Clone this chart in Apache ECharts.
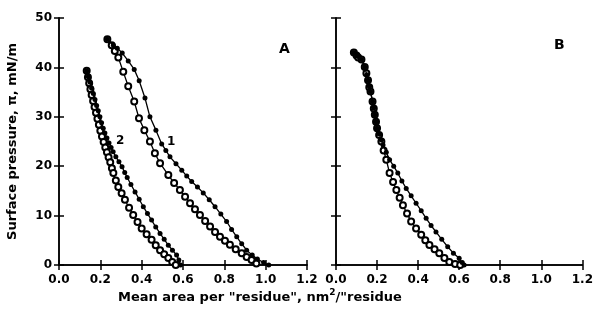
<!DOCTYPE html>
<html>
<head>
<meta charset="utf-8">
<script src="https://cdn.jsdelivr.net/npm/echarts@6/dist/echarts.min.js"></script>
<style>
  html, body { margin: 0; padding: 0; background: #fff; }
  #chart { width: 596px; height: 309px; }
</style>
</head>
<body>
<div id="chart"></div>
<script>
// panel A, curve 1 (filled = compression, open = expansion)
var a1Filled = [
  [0.234, 45.7], [0.263, 44.5], [0.282, 43.9], [0.306, 42.9], [0.335, 41.3], [0.364, 39.6],
  [0.388, 37.3], [0.416, 33.8], [0.440, 30.0], [0.469, 27.3], [0.497, 24.5], [0.517, 23.2],
  [0.537, 21.9], [0.566, 20.5], [0.594, 19.2], [0.618, 18.0], [0.642, 16.9], [0.670, 15.8],
  [0.698, 14.6], [0.727, 13.2], [0.755, 11.8], [0.783, 10.3], [0.811, 8.8], [0.835, 7.2],
  [0.860, 5.7], [0.884, 4.3], [0.908, 3.0], [0.935, 2.0], [0.960, 1.2], [0.990, 0.5], [1.015, 0]
];
var a1Open = [
  [0.234, 45.7], [0.255, 44.5], [0.270, 43.3], [0.287, 42.0], [0.311, 39.1], [0.335, 36.2],
  [0.364, 33.1], [0.387, 29.7], [0.413, 27.3], [0.440, 25.0], [0.464, 22.6], [0.489, 20.6],
  [0.529, 18.2], [0.557, 16.6], [0.585, 15.2], [0.610, 13.8], [0.634, 12.5], [0.658, 11.3],
  [0.682, 10.1], [0.707, 8.9], [0.731, 7.8], [0.755, 6.7], [0.779, 5.7], [0.803, 4.9],
  [0.827, 4.1], [0.855, 3.2], [0.884, 2.4], [0.908, 1.6], [0.932, 1.0], [0.955, 0.3]
];
// panel A, curve 2
var a2Filled = [
  [0.134, 39.3], [0.142, 38.1], [0.150, 37.0], [0.158, 35.8], [0.166, 34.7], [0.174, 33.5],
  [0.182, 32.3], [0.190, 31.2], [0.198, 30.0], [0.206, 28.8], [0.214, 27.7], [0.222, 26.7],
  [0.232, 25.7], [0.242, 24.7], [0.252, 23.8], [0.262, 22.9], [0.275, 21.9], [0.290, 20.9],
  [0.305, 19.9], [0.318, 18.7], [0.330, 17.7], [0.348, 16.3], [0.368, 14.8], [0.388, 13.3],
  [0.408, 11.8], [0.428, 10.4], [0.448, 9.1], [0.468, 7.7], [0.489, 6.4], [0.509, 5.2],
  [0.529, 4.0], [0.549, 3.0], [0.569, 2.0], [0.580, 1.0], [0.588, 0]
];
var a2Open = [
  [0.134, 39.3], [0.140, 38.0], [0.146, 36.8], [0.152, 35.6], [0.158, 34.4], [0.165, 33.2],
  [0.172, 32.0], [0.179, 30.8], [0.186, 29.6], [0.193, 28.4], [0.200, 27.2], [0.208, 26.0],
  [0.216, 24.9], [0.224, 23.8], [0.232, 22.8], [0.240, 21.8], [0.248, 20.8], [0.256, 19.6],
  [0.263, 18.6], [0.275, 17.1], [0.287, 15.8], [0.303, 14.5], [0.319, 13.2], [0.339, 11.6],
  [0.359, 10.1], [0.380, 8.7], [0.400, 7.4], [0.424, 6.2], [0.448, 5.1], [0.468, 4.0],
  [0.489, 3.0], [0.509, 2.2], [0.529, 1.4], [0.548, 0.6], [0.565, 0]
];
// panel B
var bFilled = [
  [0.087, 43.0], [0.100, 42.5], [0.108, 42.2], [0.124, 41.6], [0.140, 40.1], [0.150, 38.5],
  [0.156, 37.4], [0.162, 36.2], [0.168, 35.1], [0.178, 33.1], [0.184, 31.8], [0.189, 30.4],
  [0.195, 29.0], [0.200, 27.7], [0.210, 26.5], [0.221, 25.3], [0.229, 24.3], [0.245, 22.8],
  [0.261, 21.3], [0.281, 20.0], [0.301, 18.6], [0.321, 17.0], [0.342, 15.5], [0.366, 14.0],
  [0.390, 12.5], [0.415, 11.0], [0.439, 9.45], [0.463, 8.0], [0.487, 6.7], [0.515, 5.2],
  [0.544, 3.7], [0.572, 2.4], [0.600, 1.35], [0.615, 0.5], [0.624, 0]
];
var bOpen = [
  [0.087, 43.0], [0.100, 42.4], [0.108, 42.0], [0.124, 41.6], [0.140, 40.1], [0.148, 38.8],
  [0.156, 37.4], [0.162, 36.0], [0.168, 35.1], [0.178, 33.1], [0.184, 31.7], [0.189, 30.4],
  [0.195, 29.0], [0.200, 27.7], [0.210, 26.3], [0.221, 25.0], [0.232, 23.2], [0.245, 21.3],
  [0.261, 18.6], [0.278, 16.8], [0.294, 15.2], [0.310, 13.6], [0.326, 12.1], [0.346, 10.4],
  [0.366, 8.8], [0.390, 7.4], [0.415, 6.1], [0.435, 5.0], [0.455, 4.05], [0.480, 3.2],
  [0.503, 2.4], [0.528, 1.4], [0.552, 0.6], [0.580, 0.2], [0.605, 0]
];

var font = 'DejaVu Sans';
var axisLine = { show: true, lineStyle: { color: '#000', width: 1.5 } };
var axisTick = { show: true, inside: true, length: 5, lineStyle: { color: '#000', width: 1.5 } };
var lbl = { color: '#000', fontFamily: font, fontWeight: 'bold', fontSize: 12 };

function xAx(grid, pos, showLabel) {
  return {
    type: 'value', gridIndex: grid, position: pos, min: 0, max: 1.2, interval: 0.2,
    axisLine: axisLine, axisTick: axisTick, splitLine: { show: false },
    axisLabel: Object.assign({ show: showLabel, margin: 9, formatter: function (v) { return v.toFixed(1); } }, lbl)
  };
}
function yAx(grid, pos, showLabel, name) {
  return {
    type: 'value', gridIndex: grid, position: pos, min: 0, max: 50, interval: 10,
    axisLine: axisLine, axisTick: axisTick, splitLine: { show: false },
    axisLabel: Object.assign({ show: showLabel, margin: 7 }, lbl),
    name: name || '', nameLocation: 'middle', nameGap: 40, nameRotate: 90,
    nameTextStyle: { color: '#000', fontFamily: font, fontWeight: 'bold', fontSize: 13 }
  };
}
function filled(data, xi, yi) {
  return {
    type: 'line', xAxisIndex: xi, yAxisIndex: yi, data: data, symbol: 'circle', symbolSize: 5,
    lineStyle: { color: '#000', width: 1.3 }, itemStyle: { color: '#000' }, z: 3
  };
}
function open(data, xi, yi) {
  return {
    type: 'line', xAxisIndex: xi, yAxisIndex: yi, data: data, symbol: 'emptyCircle', symbolSize: 6,
    lineStyle: { color: '#000', width: 1.3 }, itemStyle: { color: '#000', borderWidth: 1.6 }, z: 2
  };
}

var chart = echarts.init(document.getElementById('chart'));
chart.setOption({
  animation: false,
  backgroundColor: '#fff',
  grid: [
    { left: 59, top: 18, width: 248, height: 247 },
    { left: 336, top: 18, width: 248, height: 247 }
  ],
  xAxis: [xAx(0, 'bottom', true), xAx(0, 'top', false), xAx(1, 'bottom', true), xAx(1, 'top', false)],
  yAxis: [yAx(0, 'left', true, 'Surface pressure, π, mN/m'), yAx(0, 'right', false), yAx(1, 'left', false), yAx(1, 'right', false)],
  series: [
    open(a1Open, 0, 0), filled(a1Filled, 0, 0),
    open(a2Open, 0, 0), filled(a2Filled, 0, 0),
    open(bOpen, 2, 2), filled(bFilled, 2, 2)
  ],
  graphic: [
    { type: 'text', left: 279, top: 42, style: { text: 'A', fill: '#000', font: 'bold 14px "DejaVu Sans"' } },
    { type: 'text', left: 554, top: 38, style: { text: 'B', fill: '#000', font: 'bold 14px "DejaVu Sans"' } },
    { type: 'text', left: 167, top: 136, style: { text: '1', fill: '#000', font: 'bold 12px "DejaVu Sans"' } },
    { type: 'text', left: 116, top: 135, style: { text: '2', fill: '#000', font: 'bold 12px "DejaVu Sans"' } },
    {
      type: 'text', left: 118, top: 288,
      style: {
        text: 'Mean area per "residue", nm{sup|2}/"residue',
        fill: '#000', font: 'bold 13px "DejaVu Sans"',
        rich: { sup: { fontSize: 9, fontWeight: 'bold', fontFamily: font, verticalAlign: 'top', padding: [0, 0, 10, 0] } }
      }
    }
  ]
});
</script>
</body>
</html>
